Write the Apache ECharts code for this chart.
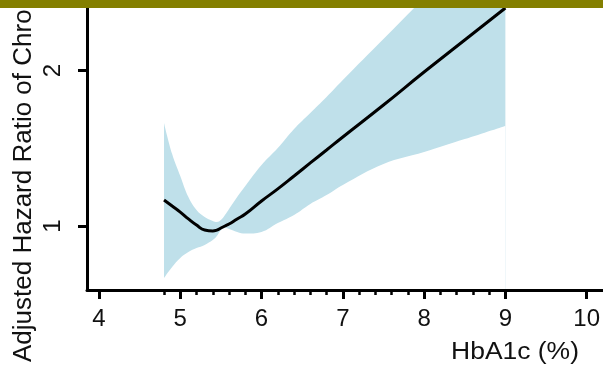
<!DOCTYPE html>
<html>
<head>
<meta charset="utf-8">
<script src="https://cdn.jsdelivr.net/npm/echarts@6/dist/echarts.min.js"></script>
<style>
  html, body { margin: 0; padding: 0; background: #fff; }
  #chart { width: 603px; height: 368px; }
</style>
</head>
<body>
<div id="chart"></div>
<script>
// ---- data ----
const hba1c = [4.8, 4.9, 5.0, 5.1, 5.2, 5.3, 5.4, 5.45, 5.5, 5.55, 5.6, 5.7, 5.8, 6.0, 6.2, 6.4, 6.6, 6.8, 7.0, 7.5, 8.0, 8.5, 9.0];
const hazardRatio = [1.123, 1.093, 1.064, 1.032, 1.004, 0.982, 0.978, 0.982, 0.991, 1.000, 1.009, 1.032, 1.055, 1.118, 1.180, 1.250, 1.325, 1.404, 1.488, 1.716, 1.988, 2.294, 2.646];
const upperCI = [1.584, 1.379, 1.250, 1.138, 1.074, 1.041, 1.023, 1.018, 1.027, 1.050, 1.079, 1.138, 1.196, 1.313, 1.416, 1.542, 1.656, 1.779, 1.919, 2.304, 2.767, 3.32, 3.99];
const lowerCI = [0.793, 0.833, 0.867, 0.890, 0.906, 0.919, 0.939, 0.956, 0.982, 0.991, 0.987, 0.974, 0.967, 0.974, 1.013, 1.050, 1.103, 1.148, 1.201, 1.319, 1.391, 1.474, 1.563];
const xTickValues = [4, 5, 6, 7, 8, 9, 10];
const xRugValues = [4.8, 5.2, 5.4, 5.6, 5.8, 6.2, 6.4, 6.6, 6.8, 7.2, 7.4, 7.6, 7.8, 8.2, 8.4, 8.6, 8.8];
const yTickValues = [1, 2];
const xTitle = 'HbA1c (%)';
const yTitle = 'Adjusted Hazard Ratio of Chronic Kidney Disease';

const chart = echarts.init(document.getElementById('chart'), null, { renderer: 'canvas' });
const font = '"Liberation Sans", Arial, sans-serif';
const xMin = 3.8525, xMax = 10.197;
const yMin = 0.7515, yMax = 2.742;
const bandColor = '#bfe0ea';

const option = {
  animation: false,
  backgroundColor: '#ffffff',
  grid: { left: 87, right: 0, top: 0, bottom: 78, containLabel: false },
  xAxis: [
    {
      type: 'value', min: xMin, max: xMax, position: 'bottom', z: 5,
      axisLine: { show: true, lineStyle: { color: '#000', width: 3 } },
      axisTick: { show: true, length: 9, lineStyle: { color: '#000', width: 3 }, customValues: xTickValues },
      axisLabel: { show: true, customValues: xTickValues, margin: 17, fontSize: 24, color: '#111', fontFamily: font },
      splitLine: { show: false }
    },
    {
      type: 'value', min: xMin, max: xMax, position: 'bottom', offset: 0, z: 5,
      axisLine: { show: false },
      axisTick: { show: true, length: 5, lineStyle: { color: '#000', width: 2.5 }, customValues: xRugValues },
      axisLabel: { show: false },
      splitLine: { show: false }
    }
  ],
  yAxis: {
    type: 'log', logBase: 2, min: yMin, max: yMax, z: 5,
    axisLine: { show: true, lineStyle: { color: '#000', width: 3 } },
    axisTick: { show: true, length: 9, lineStyle: { color: '#000', width: 3 }, customValues: yTickValues },
    axisLabel: { show: true, customValues: yTickValues, rotate: 90, margin: 22, fontSize: 24, color: '#111', fontFamily: font },
    splitLine: { show: false },
    minorTick: { show: false }
  },
  series: [
    {
      type: 'line', name: 'Upper 95% CI',
      xAxisIndex: 0, yAxisIndex: 0, z: 1,
      smooth: 0.4, symbol: 'none', silent: true,
      lineStyle: { width: 0, opacity: 0 },
      areaStyle: { color: bandColor, opacity: 1, origin: 'start' },
      data: hba1c.map((x, i) => [x, upperCI[i]])
    },
    {
      type: 'line', name: 'Lower 95% CI',
      xAxisIndex: 0, yAxisIndex: 0, z: 1,
      smooth: 0.4, symbol: 'none', silent: true,
      lineStyle: { width: 0, opacity: 0 },
      areaStyle: { color: '#ffffff', opacity: 1, origin: 'start' },
      data: hba1c.map((x, i) => [x, lowerCI[i]])
    },
    {
      type: 'line', name: 'HR',
      xAxisIndex: 0, yAxisIndex: 0, z: 3,
      smooth: 0.5, symbol: 'none',
      lineStyle: { color: '#000', width: 3 },
      data: hba1c.map((x, i) => [x, hazardRatio[i]])
    }
  ],
  graphic: [
    {
      type: 'text', x: 515, y: 353, z: 10, scaleX: 1.15,
      style: { text: xTitle, fontSize: 23, fontFamily: font, fill: '#111', textAlign: 'center', textVerticalAlign: 'middle' }
    },
    {
      type: 'text', x: 24, y: 362, rotation: Math.PI / 2, z: 10,
      style: { text: yTitle, fontSize: 26, fontFamily: font, fill: '#111', textAlign: 'left', textVerticalAlign: 'middle' }
    },
    {
      type: 'rect', left: 0, top: 0, z: 20,
      shape: { width: 603, height: 8 },
      style: { fill: '#847f00' }
    }
  ]
};
chart.setOption(option);
</script>
</body>
</html>
